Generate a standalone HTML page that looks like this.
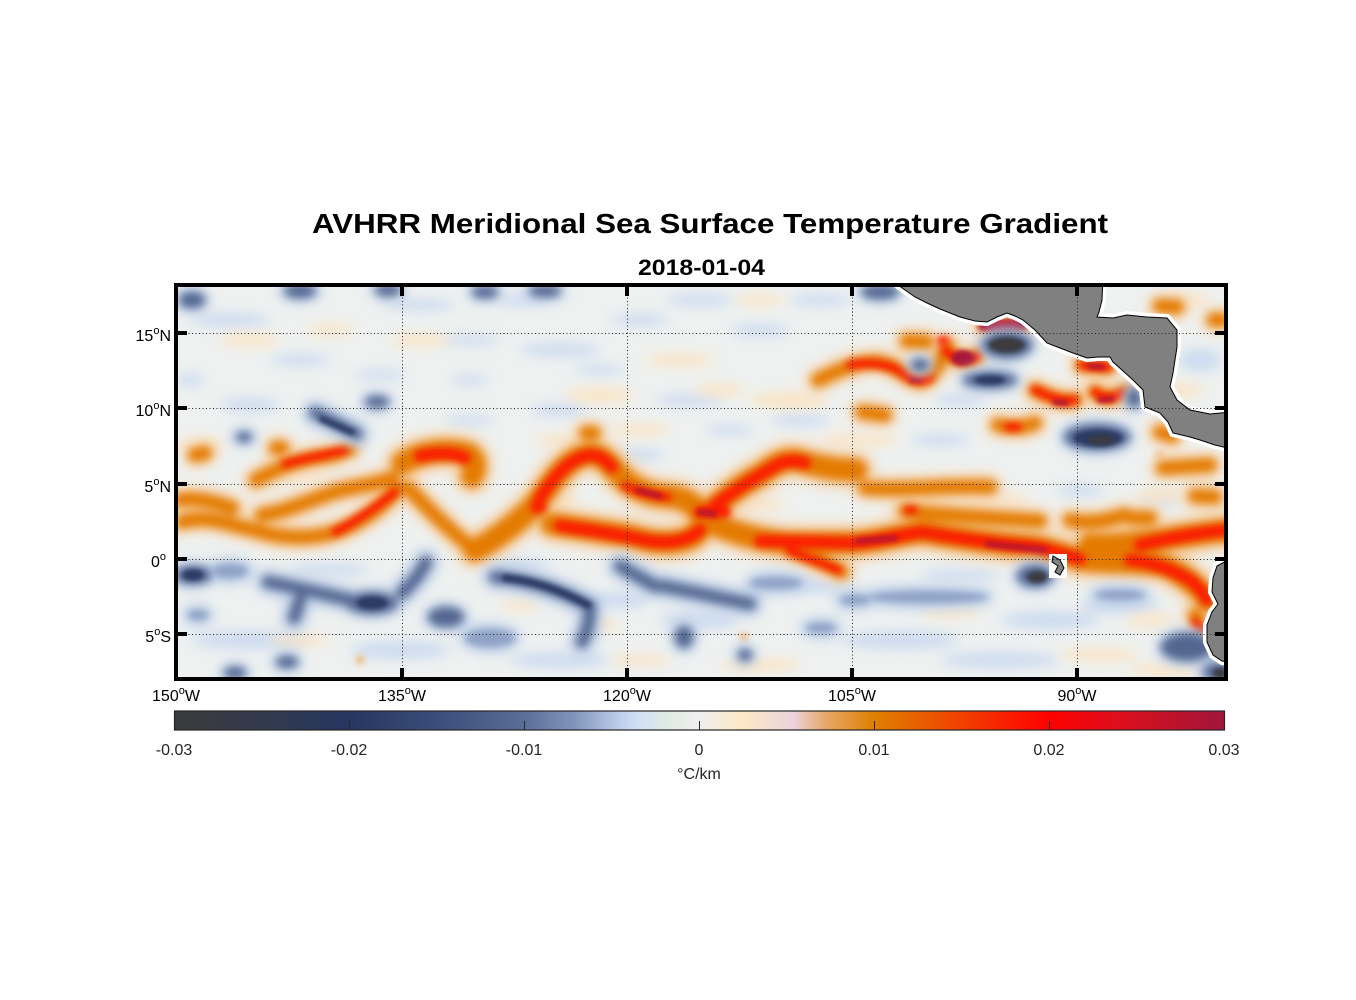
<!DOCTYPE html>
<html><head><meta charset="utf-8"><style>
html,body{margin:0;padding:0;background:#fff;}
svg{display:block;font-family:"Liberation Sans",Arial,sans-serif;}
</style></head><body>
<svg width="1356" height="1000" viewBox="0 0 1356 1000" xmlns="http://www.w3.org/2000/svg">
<defs>
<clipPath id="cp"><rect x="176" y="285" width="1050" height="394"/></clipPath>
<filter id="b2" x="-10%" y="-10%" width="120%" height="120%"><feGaussianBlur stdDeviation="2.5"/></filter>
<filter id="b3" x="-10%" y="-10%" width="120%" height="120%"><feGaussianBlur stdDeviation="3.5"/></filter>
<filter id="b4" x="-10%" y="-10%" width="120%" height="120%"><feGaussianBlur stdDeviation="4.5"/></filter>
<filter id="b5" x="-10%" y="-10%" width="120%" height="120%"><feGaussianBlur stdDeviation="6"/></filter>
<filter id="b7" x="-10%" y="-10%" width="120%" height="120%"><feGaussianBlur stdDeviation="6"/></filter>
<linearGradient id="cb" x1="0" y1="0" x2="1" y2="0">
<stop offset="0" stop-color="#3b3b3c"/>
<stop offset="0.08" stop-color="#333a4c"/>
<stop offset="0.167" stop-color="#253660"/>
<stop offset="0.25" stop-color="#3b4d7a"/>
<stop offset="0.333" stop-color="#5a6e98"/>
<stop offset="0.38" stop-color="#8094bb"/>
<stop offset="0.42" stop-color="#b7c9e6"/>
<stop offset="0.44" stop-color="#cfe0f5"/>
<stop offset="0.47" stop-color="#dfebe1"/>
<stop offset="0.5" stop-color="#efefef"/>
<stop offset="0.54" stop-color="#fde8c6"/>
<stop offset="0.59" stop-color="#ebd3db"/>
<stop offset="0.62" stop-color="#e6a868"/>
<stop offset="0.667" stop-color="#df7f00"/>
<stop offset="0.75" stop-color="#f24000"/>
<stop offset="0.833" stop-color="#ff0000"/>
<stop offset="0.9" stop-color="#dc0f1c"/>
<stop offset="1" stop-color="#a0163a"/>
</linearGradient>

<path id="o1" d="M 256 480 C 275 470, 295 460, 320 457 S 340 450, 350 449"/>
<path id="o2" d="M 182 522 C 205 514, 230 525, 255 530 C 285 540, 320 540, 348 527 C 368 517, 385 505, 398 488"/>
<path id="o3" d="M 262 515 C 285 512, 310 500, 335 492 C 355 486, 375 485, 392 478"/>
<path id="o5" d="M 408 488 C 425 505, 448 530, 475 550"/>
<path id="o10" d="M 785 548 C 805 556, 825 563, 842 572"/>
<path id="o11" d="M 905 511 C 940 515, 990 518, 1040 521"/>
<path id="o12" d="M 865 488 C 900 491, 950 485, 990 487"/>
<path id="o14" d="M 1163 468 L 1210 465"/>
<path id="o15" d="M 1195 496 L 1215 497"/>
<path id="o16" d="M 1132 518 L 1150 518"/>
<path id="o17" d="M 1160 432 L 1172 436"/>
<path id="o18" d="M 998 425 C 1010 428, 1025 428, 1035 423"/>
<path id="o19" d="M 1195 615 C 1200 625, 1203 633, 1205 638"/>
<path id="o20" d="M 818 380 C 835 372, 855 362, 875 362 C 895 363, 905 378, 920 381 C 932 379, 940 362, 948 346"/>
<path id="o21" d="M 907 341 L 927 342"/>
<path id="o22" d="M 1035 390 C 1048 396, 1060 402, 1075 400"/>
<path id="o23" d="M 1082 365 L 1108 367"/>
<path id="o24" d="M 1095 392 C 1105 400, 1115 398, 1125 392"/>
<path id="o25" d="M 945 350 C 955 360, 968 365, 978 355"/>
<path id="o26" d="M 985 325 L 1022 325"/>
<path id="o27" d="M 1160 306 L 1177 307"/>
<path id="o28" d="M 1214 320 L 1222 320"/>
<path id="o31" d="M 862 412 L 885 415"/>
<path id="o32" d="M 195 455 L 205 453"/>
<path id="o33" d="M 276 448 L 282 448"/>
<path id="o34" d="M 586 433 L 594 433"/>
<path id="o35" d="M 1070 520 C 1090 525, 1110 520, 1125 515"/>
<path id="o36" d="M 180 500 C 195 497, 215 502, 232 508"/>
<path id="o4" d="M 403 463 C 420 452, 445 448, 468 454 C 476 460, 476 468, 472 476"/>
<path id="o6" d="M 475 550 C 495 540, 518 522, 535 505 C 550 485, 565 460, 585 455 C 598 452, 606 460, 615 470 C 628 485, 645 495, 665 496 C 680 497, 690 500, 700 512"/>
<path id="o7" d="M 552 524 C 580 528, 605 532, 630 536 C 655 544, 680 545, 695 535 C 703 525, 708 516, 712 512"/>
<path id="o8" d="M 705 515 C 722 500, 740 485, 760 475 C 772 466, 785 457, 800 461 C 820 467, 840 470, 856 470"/>
<path id="o9" d="M 705 520 C 730 532, 760 541, 790 543 L 853 543 C 880 541, 900 534, 922 532 C 950 537, 990 543, 1037 547 C 1055 551, 1068 556, 1082 560 C 1110 563, 1140 561, 1165 566 C 1185 575, 1200 588, 1208 600"/>
<path id="o13" d="M 1090 545 C 1130 547, 1180 535, 1230 530"/>

<ellipse id="n1" cx="1007" cy="345" rx="24" ry="12"/>
<ellipse id="n2" cx="990" cy="380" rx="26" ry="7"/>
<ellipse id="n3" cx="920" cy="365" rx="8" ry="5"/>
<ellipse id="n4" cx="1097" cy="437" rx="32" ry="12"/>
<ellipse id="n5" cx="1134" cy="398" rx="6" ry="9"/>
<ellipse id="n7" cx="377" cy="402" rx="11" ry="5"/>
<ellipse id="n8" cx="192" cy="300" rx="12" ry="7"/>
<ellipse id="n9" cx="388" cy="290" rx="12" ry="5"/>
<ellipse id="n10" cx="300" cy="291" rx="15" ry="6"/>
<ellipse id="n11" cx="485" cy="292" rx="12" ry="5"/>
<ellipse id="n12" cx="545" cy="291" rx="15" ry="5"/>
<ellipse id="n13" cx="880" cy="292" rx="18" ry="6"/>
<ellipse id="n14" cx="244" cy="437" rx="7" ry="4"/>
<ellipse id="s1" cx="193" cy="575" rx="18" ry="8"/>
<ellipse id="s2" cx="230" cy="571" rx="18" ry="7"/>
<ellipse id="s5" cx="372" cy="603" rx="25" ry="10"/>
<ellipse id="s7" cx="446" cy="617" rx="17" ry="9"/>
<ellipse id="s9" cx="490" cy="638" rx="25" ry="9"/>
<ellipse id="s12" cx="684" cy="637" rx="8" ry="10"/>
<ellipse id="s13" cx="776" cy="583" rx="26" ry="6"/>
<ellipse id="s14" cx="821" cy="628" rx="15" ry="5"/>
<ellipse id="s15" cx="745" cy="655" rx="6" ry="5"/>
<ellipse id="s16" cx="928" cy="597" rx="60" ry="6"/>
<ellipse id="s17" cx="1035" cy="576" rx="17" ry="10"/>
<ellipse id="s18" cx="1187" cy="647" rx="25" ry="13"/>
<ellipse id="s18b" cx="1218" cy="672" rx="14" ry="8"/>
<ellipse id="s19" cx="235" cy="673" rx="10" ry="5"/>
<ellipse id="s19b" cx="287" cy="662" rx="10" ry="5"/>
<ellipse id="s20" cx="198" cy="615" rx="10" ry="5"/>
<ellipse id="s21" cx="855" cy="600" rx="15" ry="5"/>
<ellipse id="s22" cx="1120" cy="595" rx="25" ry="5"/>
<path id="n6" d="M 315 413 C 330 420, 345 428, 357 434"/>
<path id="s3" d="M 268 582 C 290 586, 320 593, 350 600"/>
<path id="s4" d="M 300 600 L 294 618"/>
<path id="s6" d="M 426 562 C 420 575, 410 585, 402 593"/>
<path id="s8" d="M 495 577 C 530 580, 560 590, 590 606 C 590 620, 587 632, 582 642"/>
<path id="s10" d="M 620 566 L 655 586"/>
<path id="s11" d="M 662 586 C 690 591, 720 598, 750 604"/>
</defs>

<g clip-path="url(#cp)">
<rect x="176" y="285" width="1050" height="394" fill="#eef1f0"/>

<g filter="url(#b7)" fill="#cddcf0">
<ellipse cx="230" cy="320" rx="40" ry="7"/><ellipse cx="300" cy="360" rx="30" ry="6"/>
<ellipse cx="420" cy="305" rx="35" ry="6"/><ellipse cx="470" cy="340" rx="30" ry="5"/>
<ellipse cx="520" cy="300" rx="25" ry="6"/><ellipse cx="560" cy="350" rx="40" ry="7"/>
<ellipse cx="640" cy="320" rx="30" ry="6"/><ellipse cx="700" cy="300" rx="35" ry="6"/>
<ellipse cx="760" cy="330" rx="30" ry="6"/><ellipse cx="820" cy="300" rx="30" ry="6"/>
<ellipse cx="690" cy="400" rx="35" ry="6"/><ellipse cx="560" cy="410" rx="30" ry="6"/>
<ellipse cx="470" cy="420" rx="25" ry="5"/><ellipse cx="250" cy="405" rx="30" ry="7"/>
<ellipse cx="190" cy="380" rx="15" ry="6"/><ellipse cx="800" cy="420" rx="30" ry="6"/>
<ellipse cx="960" cy="400" rx="25" ry="6"/><ellipse cx="940" cy="440" rx="30" ry="6"/>
<ellipse cx="1200" cy="360" rx="22" ry="12"/><ellipse cx="1150" cy="330" rx="18" ry="6"/>
<ellipse cx="250" cy="640" rx="60" ry="9"/><ellipse cx="400" cy="650" rx="50" ry="9"/>
<ellipse cx="560" cy="660" rx="50" ry="8"/><ellipse cx="700" cy="620" rx="40" ry="9"/>
<ellipse cx="900" cy="640" rx="60" ry="9"/><ellipse cx="1050" cy="620" rx="50" ry="9"/>
<ellipse cx="1120" cy="605" rx="40" ry="8"/><ellipse cx="1000" cy="660" rx="60" ry="8"/>
<ellipse cx="620" cy="600" rx="30" ry="8"/><ellipse cx="820" cy="585" rx="30" ry="8"/>
<ellipse cx="330" cy="570" rx="40" ry="6"/><ellipse cx="960" cy="575" rx="40" ry="6"/>
<ellipse cx="640" cy="455" rx="25" ry="6"/><ellipse cx="1080" cy="490" rx="25" ry="6"/>
<ellipse cx="380" cy="375" rx="25" ry="5"/><ellipse cx="600" cy="370" rx="25" ry="5"/>
<ellipse cx="730" cy="430" rx="25" ry="5"/><ellipse cx="470" cy="380" rx="20" ry="5"/>
<ellipse cx="1160" cy="500" rx="20" ry="5"/><ellipse cx="520" cy="565" rx="30" ry="6"/>
</g>
<g filter="url(#b7)" fill="#fbe4c4">
<ellipse cx="250" cy="340" rx="30" ry="6"/><ellipse cx="330" cy="330" rx="25" ry="5"/>
<ellipse cx="420" cy="340" rx="30" ry="6"/><ellipse cx="600" cy="395" rx="35" ry="7"/>
<ellipse cx="680" cy="360" rx="35" ry="6"/><ellipse cx="720" cy="390" rx="25" ry="6"/>
<ellipse cx="790" cy="400" rx="40" ry="8"/><ellipse cx="640" cy="430" rx="30" ry="6"/>
<ellipse cx="560" cy="440" rx="25" ry="5"/><ellipse cx="200" cy="445" rx="25" ry="6"/>
<ellipse cx="760" cy="300" rx="25" ry="5"/><ellipse cx="860" cy="440" rx="40" ry="6"/>
<ellipse cx="1180" cy="390" rx="25" ry="6"/><ellipse cx="1190" cy="300" rx="20" ry="6"/>
<ellipse cx="300" cy="640" rx="30" ry="5"/><ellipse cx="600" cy="625" rx="20" ry="5"/>
<ellipse cx="760" cy="665" rx="40" ry="6"/><ellipse cx="950" cy="612" rx="30" ry="5"/>
<ellipse cx="1100" cy="655" rx="40" ry="6"/><ellipse cx="520" cy="605" rx="20" ry="5"/>
<ellipse cx="560" cy="500" rx="20" ry="6"/><ellipse cx="760" cy="505" rx="25" ry="6"/>
<ellipse cx="1000" cy="500" rx="30" ry="6"/><ellipse cx="300" cy="475" rx="25" ry="6"/>
<ellipse cx="1160" cy="495" rx="25" ry="6"/><ellipse cx="1150" cy="620" rx="25" ry="6"/>
<ellipse cx="1170" cy="670" rx="40" ry="6"/><ellipse cx="640" cy="660" rx="30" ry="5"/>
</g>
<g filter="url(#b3)" fill="#f0a860">
<circle cx="360" cy="660" r="4"/><circle cx="744" cy="637" r="4"/><circle cx="200" cy="455" r="4"/>
<circle cx="940" cy="300" r="4"/><circle cx="1160" cy="455" r="4"/>
</g>

<g filter="url(#b5)" fill="none" stroke="#f6d3aa" stroke-linecap="round" stroke-linejoin="round">
<g stroke-width="26">
<use href="#o1"/><use href="#o2"/><use href="#o3"/><use href="#o5"/><use href="#o10"/><use href="#o11"/><use href="#o12"/><use href="#o14"/><use href="#o15"/><use href="#o16"/><use href="#o17"/><use href="#o18"/><use href="#o19"/><use href="#o20"/><use href="#o21"/><use href="#o22"/><use href="#o23"/><use href="#o24"/><use href="#o25"/><use href="#o26"/><use href="#o27"/><use href="#o28"/><use href="#o31"/><use href="#o32"/><use href="#o33"/><use href="#o34"/><use href="#o35"/><use href="#o36"/>
</g>
<g stroke-width="38">
<use href="#o4"/><use href="#o6"/><use href="#o7"/><use href="#o8"/><use href="#o9"/><use href="#o13"/>
</g>
</g>
<g filter="url(#b4)" fill="none" stroke="#e47a06" stroke-linecap="round" stroke-linejoin="round">
<g stroke-width="14">
<use href="#o1"/><use href="#o2"/><use href="#o3"/><use href="#o5"/><use href="#o10"/><use href="#o11"/><use href="#o12"/><use href="#o14"/><use href="#o15"/><use href="#o16"/><use href="#o17"/><use href="#o18"/><use href="#o19"/><use href="#o20"/><use href="#o21"/><use href="#o22"/><use href="#o23"/><use href="#o24"/><use href="#o25"/><use href="#o26"/><use href="#o27"/><use href="#o28"/><use href="#o31"/><use href="#o32"/><use href="#o33"/><use href="#o34"/><use href="#o35"/><use href="#o36"/>
</g>
<g stroke-width="23">
<use href="#o4"/><use href="#o6"/><use href="#o7"/><use href="#o8"/><use href="#o9"/><use href="#o13"/>
</g>
</g>
<g filter="url(#b3)" fill="none" stroke="#fb1c02" stroke-linecap="round" stroke-linejoin="round">
<g stroke-width="8">
<path d="M 285 464 C 305 458, 325 455, 345 450"/>
<path d="M 335 532 C 355 522, 375 508, 395 492"/>
<path d="M 625 486 C 640 493, 655 496, 668 497"/>
<path d="M 790 551 C 808 558, 825 564, 838 570"/>
<path d="M 850 365 C 870 361, 895 365, 905 375 C 912 380, 922 381, 930 378"/>
<use href="#o22"/><use href="#o23"/><use href="#o24"/><use href="#o25"/><use href="#o26"/>
<path d="M 1008 427 L 1018 427"/>
<path d="M 941 340 L 945 340"/>
<path d="M 908 510 L 914 510"/>
<path d="M 1195 622 L 1203 632"/>
</g>
<g stroke-width="12">
<path d="M 420 456 C 440 452, 455 453, 465 458"/>
<path d="M 540 498 C 552 480, 565 462, 585 456 C 598 453, 606 460, 612 467"/>
<path d="M 560 526 C 590 530, 615 534, 640 539 C 660 544, 685 544, 700 530"/>
<path d="M 715 505 C 735 490, 755 478, 775 466 C 785 460, 795 460, 805 463"/>
<path d="M 760 541 L 853 543 C 880 541, 900 535, 922 532 C 950 537, 990 543, 1037 547 C 1055 551, 1068 556, 1080 559"/>
<path d="M 1130 560 C 1150 562, 1170 568, 1190 580 C 1200 588, 1205 595, 1207 600"/>
<path d="M 1140 545 C 1170 538, 1200 532, 1230 530"/>
<path d="M 536 507 L 540 507"/>
<path d="M 700 512 L 725 512"/>
</g>
</g>
<g filter="url(#b2)" fill="none" stroke="#b8122e" stroke-linecap="round">
<g stroke-width="6">
<path d="M 638 490 L 660 496"/>
<path d="M 700 512 L 714 514"/>
<path d="M 858 541 L 895 538"/>
<path d="M 988 544 L 1045 550"/>
<path d="M 1055 402 L 1066 403"/>
<path d="M 1100 400 L 1112 399"/>
<path d="M 1090 366 L 1102 367"/>
<path d="M 912 380 L 920 380"/>
</g>
<ellipse cx="963" cy="358" rx="12" ry="8" fill="#a8153a" stroke="none"/>
<path d="M 984 326 L 1022 325" stroke="#a8153a" stroke-width="11"/>
</g>

<g filter="url(#b5)" fill="#bccde7" stroke="#bccde7" stroke-linecap="round">
<g stroke-width="12">
<use href="#n1"/><use href="#n2"/><use href="#n3"/><use href="#n4"/><use href="#n5"/><use href="#n7"/><use href="#n8"/><use href="#n9"/><use href="#n10"/><use href="#n11"/><use href="#n12"/><use href="#n13"/><use href="#n14"/>
<use href="#s1"/><use href="#s2"/><use href="#s5"/><use href="#s7"/><use href="#s9"/><use href="#s12"/><use href="#s13"/><use href="#s14"/><use href="#s15"/><use href="#s16"/><use href="#s17"/><use href="#s18"/><use href="#s18b"/><use href="#s19"/><use href="#s19b"/><use href="#s20"/><use href="#s21"/><use href="#s22"/>
</g>
<g fill="none" stroke-width="26">
<use href="#n6"/><use href="#s3"/><use href="#s4"/><use href="#s6"/><use href="#s8"/><use href="#s10"/><use href="#s11"/>
</g>
</g>
<g filter="url(#b4)" fill="#52668f" stroke="#52668f" stroke-linecap="round">
<g stroke-width="2">
<use href="#n1"/><use href="#n2"/><use href="#n3"/><use href="#n4"/><use href="#n5"/><use href="#n7"/><use href="#n8"/><use href="#n9"/><use href="#n10"/><use href="#n11"/><use href="#n12"/><use href="#n13"/><use href="#n14"/>
<use href="#s1"/><use href="#s5"/><use href="#s7"/><use href="#s12"/><use href="#s15"/><use href="#s17"/><use href="#s18"/><use href="#s18b"/><use href="#s19"/><use href="#s19b"/>
</g>
<g fill="none" stroke-width="12">
<use href="#n6"/><use href="#s3"/><use href="#s4"/><use href="#s6"/><use href="#s8"/><use href="#s10"/><use href="#s11"/>
</g>
</g>
<g filter="url(#b3)" fill="#8fa3c6">
<use href="#s2"/><use href="#s9"/><use href="#s13"/><use href="#s14"/><use href="#s16"/><use href="#s20"/><use href="#s21"/><use href="#s22"/>
</g>
<g filter="url(#b2)" fill="#2a3b63" stroke="#2a3b63" stroke-linecap="round">
<ellipse cx="990" cy="380" rx="15" ry="4"/>
<ellipse cx="1098" cy="438" rx="24" ry="8"/>
<ellipse cx="372" cy="603" rx="15" ry="6"/>
<ellipse cx="193" cy="575" rx="10" ry="5"/>
<path d="M 505 578 C 535 581, 560 590, 588 605" fill="none" stroke-width="7"/>
<path d="M 322 419 C 335 425, 345 429, 352 432" fill="none" stroke-width="6"/>
</g>
<g filter="url(#b2)" fill="#3a3b3f">
<ellipse cx="1007" cy="345" rx="18" ry="8"/>
<ellipse cx="1101" cy="440" rx="13" ry="5"/>
<ellipse cx="1037" cy="577" rx="10" ry="6"/>
<ellipse cx="1220" cy="673" rx="7" ry="5"/>
</g>

<g stroke-linejoin="miter">
<polygon points="895,278 1103,278 1102,300 1099,312 1097,317 1113,318 1127,315 1147,317 1167,318 1177,330 1177,347 1173,373 1170,387 1177,400 1190,410 1210,414 1232,412 1232,449 1215,445 1200,440 1190,437 1173,433 1168,422 1160,413 1145,407 1143,390 1133,380 1122,370 1113,362 1110,357 1098,357 1087,358 1073,353 1060,348 1047,343 1035,330 1023,320 1015,316 1007,313 997,317 987,322 975,321 960,317 940,309 927,303 915,297 905,290 898,285" fill="#fff" stroke="#fff" stroke-width="8"/>
<polygon points="1232,558 1217,566 1213,578 1212,592 1218,604 1212,612 1207,625 1207,642 1213,655 1222,661 1232,663" fill="#fff" stroke="#fff" stroke-width="8"/>
<rect x="1049" y="554" width="18" height="24" fill="#fff"/>
<polygon points="895,278 1103,278 1102,300 1099,312 1097,317 1113,318 1127,315 1147,317 1167,318 1177,330 1177,347 1173,373 1170,387 1177,400 1190,410 1210,414 1232,412 1232,449 1215,445 1200,440 1190,437 1173,433 1168,422 1160,413 1145,407 1143,390 1133,380 1122,370 1113,362 1110,357 1098,357 1087,358 1073,353 1060,348 1047,343 1035,330 1023,320 1015,316 1007,313 997,317 987,322 975,321 960,317 940,309 927,303 915,297 905,290 898,285" fill="#808080" stroke="#000" stroke-width="1"/>
<polygon points="1232,558 1217,566 1213,578 1212,592 1218,604 1212,612 1207,625 1207,642 1213,655 1222,661 1232,663" fill="#808080" stroke="#000" stroke-width="1"/>
<polygon points="1053,556 1060,560 1064,568 1060,575 1055,572 1058,566 1052,562" fill="#808080" stroke="#000" stroke-width="1"/>
</g>

<g stroke="#222" stroke-width="1" stroke-dasharray="1 2.5">
<line x1="402.5" y1="287" x2="402.5" y2="677"/>
<line x1="627.5" y1="287" x2="627.5" y2="677"/>
<line x1="852.5" y1="287" x2="852.5" y2="677"/>
<line x1="1077.5" y1="287" x2="1077.5" y2="677"/>
<line x1="178" y1="333.5" x2="1224" y2="333.5"/>
<line x1="178" y1="408.5" x2="1224" y2="408.5"/>
<line x1="178" y1="484.5" x2="1224" y2="484.5"/>
<line x1="178" y1="559.5" x2="1224" y2="559.5"/>
<line x1="178" y1="634.5" x2="1224" y2="634.5"/>
</g>
</g>

<rect x="176" y="285" width="1050" height="394" fill="none" stroke="#000" stroke-width="4"/>
<g fill="#000">
<rect x="176" y="331" width="11" height="4"/><rect x="176" y="406" width="11" height="4"/><rect x="176" y="482" width="11" height="4"/><rect x="176" y="557" width="11" height="4"/><rect x="176" y="632" width="11" height="4"/>
<rect x="1215" y="331" width="11" height="4"/><rect x="1215" y="406" width="11" height="4"/><rect x="1215" y="482" width="11" height="4"/><rect x="1215" y="557" width="11" height="4"/><rect x="1215" y="632" width="11" height="4"/>
<rect x="400" y="285" width="4" height="11"/><rect x="625" y="285" width="4" height="11"/><rect x="850" y="285" width="4" height="11"/><rect x="1075" y="285" width="4" height="11"/>
<rect x="400" y="668" width="4" height="11"/><rect x="625" y="668" width="4" height="11"/><rect x="850" y="668" width="4" height="11"/><rect x="1075" y="668" width="4" height="11"/>
</g>

<text x="710" y="233" text-anchor="middle" font-size="28" font-weight="bold" fill="#000" textLength="796" lengthAdjust="spacingAndGlyphs">AVHRR Meridional Sea Surface Temperature Gradient</text>
<text x="701.5" y="275" text-anchor="middle" font-size="22" font-weight="bold" fill="#000" textLength="127" lengthAdjust="spacingAndGlyphs">2018-01-04</text>

<g font-size="16" fill="#000" text-anchor="end">
<text x="171" y="341">15<tspan font-size="11" dy="-7">o</tspan><tspan dy="7">N</tspan></text>
<text x="171" y="416">10<tspan font-size="11" dy="-7">o</tspan><tspan dy="7">N</tspan></text>
<text x="171" y="492">5<tspan font-size="11" dy="-7">o</tspan><tspan dy="7">N</tspan></text>
<text x="166" y="567">0<tspan font-size="11" dy="-7">o</tspan></text>
<text x="171" y="642">5<tspan font-size="11" dy="-7">o</tspan><tspan dy="7">S</tspan></text>
</g>
<g font-size="16" fill="#000" text-anchor="middle">
<text x="176" y="701">150<tspan font-size="11" dy="-7">o</tspan><tspan dy="7">W</tspan></text>
<text x="402" y="701">135<tspan font-size="11" dy="-7">o</tspan><tspan dy="7">W</tspan></text>
<text x="627" y="701">120<tspan font-size="11" dy="-7">o</tspan><tspan dy="7">W</tspan></text>
<text x="852" y="701">105<tspan font-size="11" dy="-7">o</tspan><tspan dy="7">W</tspan></text>
<text x="1077" y="701">90<tspan font-size="11" dy="-7">o</tspan><tspan dy="7">W</tspan></text>
</g>

<rect x="174.5" y="711" width="1050" height="19" fill="url(#cb)" stroke="#262626" stroke-width="1.2"/>
<g stroke="#262626" stroke-width="1">
<line x1="349.5" y1="721" x2="349.5" y2="730"/>
<line x1="524.5" y1="721" x2="524.5" y2="730"/>
<line x1="699.5" y1="721" x2="699.5" y2="730"/>
<line x1="874.5" y1="721" x2="874.5" y2="730"/>
<line x1="1049.5" y1="721" x2="1049.5" y2="730"/>
</g>
<g font-size="16" fill="#262626" text-anchor="middle">
<text x="174" y="755">-0.03</text>
<text x="349" y="755">-0.02</text>
<text x="524" y="755">-0.01</text>
<text x="699" y="755">0</text>
<text x="874" y="755">0.01</text>
<text x="1049" y="755">0.02</text>
<text x="1224" y="755">0.03</text>
<text x="699" y="779">°C/km</text>
</g>
</svg>
</body></html>
